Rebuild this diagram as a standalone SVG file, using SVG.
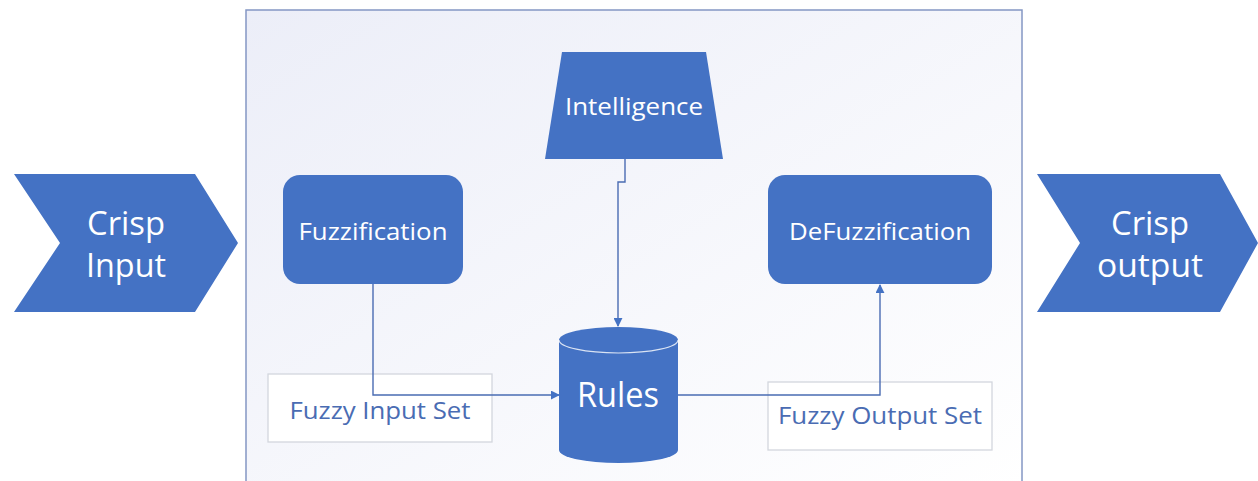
<svg xmlns="http://www.w3.org/2000/svg" width="1258" height="481" viewBox="0 0 1258 481">
  <defs>
    <linearGradient id="panelFill" x1="0" y1="0" x2="1" y2="1">
      <stop offset="0" stop-color="#eceef8"/>
      <stop offset="1" stop-color="#ffffff"/>
    </linearGradient>
    <marker id="arrow" viewBox="0 0 10 10" refX="9" refY="5" markerWidth="9" markerHeight="9" markerUnits="userSpaceOnUse" orient="auto">
      <path d="M0,0 L10,5 L0,10 Z" fill="#4472c4"/>
    </marker>
    <style>
      .shape { fill: #4472c4; }
      .label { font-family: "Open Sans", "Noto Sans", sans-serif; fill: #ffffff; text-anchor: middle; }
      .setbox { fill: #ffffff; stroke: #d3d6dd; stroke-width: 1.3; }
      .setlabel { font-family: "Open Sans", "Noto Sans", sans-serif; fill: #4a6cb3; text-anchor: middle; font-size: 23px; }
      .wire { fill: none; stroke: #4a6cb3; stroke-width: 1.4; }
    </style>
  </defs>

  <rect width="1258" height="481" fill="#ffffff"/>

  <!-- processing panel -->
  <g id="panel">
    <rect x="246" y="10" width="776" height="480" fill="url(#panelFill)" stroke="#8497c4" stroke-width="1.5"/>
  </g>

  <g id="crisp-input">
    <polygon class="shape" points="14,174 195,174 238,243 195,312 14,312 60,243"/>
    <text class="label" x="126" y="235" font-size="32" textLength="78" lengthAdjust="spacingAndGlyphs">Crisp</text>
    <text class="label" x="126" y="277" font-size="32" textLength="80" lengthAdjust="spacingAndGlyphs">Input</text>
  </g>

  <g id="crisp-output">
    <polygon class="shape" points="1037,174 1220,174 1258,243 1220,312 1037,312 1080,243"/>
    <text class="label" x="1150" y="235" font-size="32" textLength="78" lengthAdjust="spacingAndGlyphs">Crisp</text>
    <text class="label" x="1150" y="277" font-size="32" textLength="106" lengthAdjust="spacingAndGlyphs">output</text>
  </g>

  <g id="intelligence">
    <polygon class="shape" points="562,52 706,52 723,159 545,159"/>
    <text class="label" x="634" y="115" font-size="23" textLength="138" lengthAdjust="spacingAndGlyphs">Intelligence</text>
  </g>

  <g id="fuzzification">
    <rect class="shape" x="283" y="175" width="180" height="109" rx="17"/>
    <text class="label" x="373" y="240" font-size="23" textLength="149" lengthAdjust="spacingAndGlyphs">Fuzzification</text>
  </g>

  <g id="defuzzification">
    <rect class="shape" x="768" y="175" width="224" height="109" rx="17"/>
    <text class="label" x="880" y="240" font-size="23" textLength="182" lengthAdjust="spacingAndGlyphs">DeFuzzification</text>
  </g>

  <g id="fuzzy-input-set">
    <rect class="setbox" x="268" y="374" width="224" height="68"/>
    <text class="setlabel" x="380" y="419" textLength="181" lengthAdjust="spacingAndGlyphs">Fuzzy Input Set</text>
  </g>

  <g id="fuzzy-output-set">
    <rect class="setbox" x="768" y="382" width="224" height="68"/>
    <text class="setlabel" x="880" y="424" textLength="204" lengthAdjust="spacingAndGlyphs">Fuzzy Output Set</text>
  </g>

  <g id="connectors">
    <path class="wire" d="M625,159 V182 H618 V326" marker-end="url(#arrow)"/>
    <path class="wire" d="M373,284 V395 H559" marker-end="url(#arrow)"/>
    <path class="wire" d="M678,395 H880 V285" marker-end="url(#arrow)"/>
  </g>

  <g id="rules">
    <path class="shape" d="M559,340 A59.5,13 0 0 1 678,340 V450 A59.5,13 0 0 1 559,450 Z"/>
    <path d="M559,340 A59.5,13 0 0 0 678,340" fill="none" stroke="#ffffff" stroke-width="1.2" opacity="0.8"/>
    <text class="label" x="618" y="407" font-size="34" textLength="82" lengthAdjust="spacingAndGlyphs">Rules</text>
  </g>
</svg>
